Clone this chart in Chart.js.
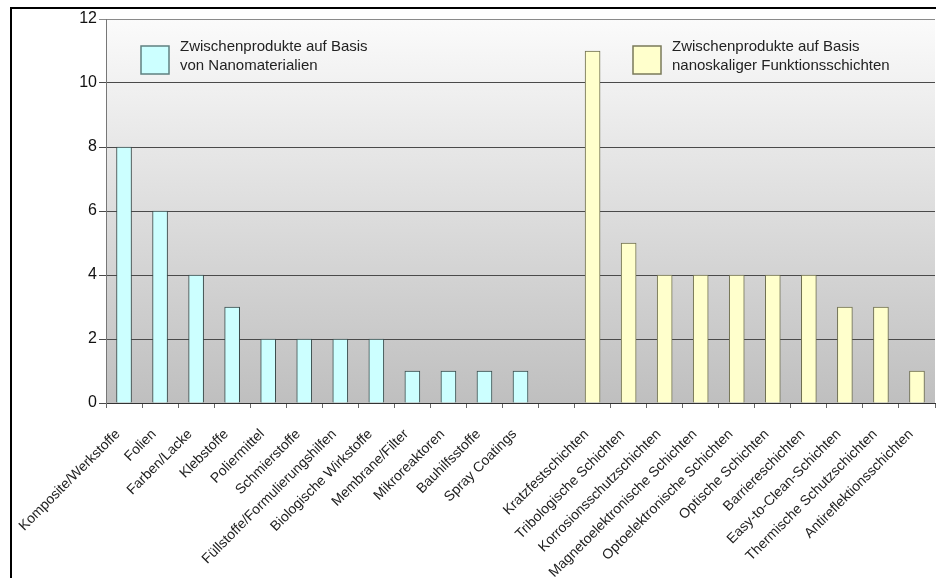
<!DOCTYPE html>
<html>
<head>
<meta charset="utf-8">
<script src="https://cdn.jsdelivr.net/npm/chart.js@4.4.1/dist/chart.umd.min.js"></script>
<style>
  html, body { margin: 0; padding: 0; background: #fff; overflow: hidden; }
  canvas { display: block; }
</style>
</head>
<body>
<canvas id="chart" width="936" height="578"></canvas>
<script>
var categories = [
    "Komposite/Werkstoffe", "Folien", "Farben/Lacke", "Klebstoffe", "Poliermittel",
    "Schmierstoffe", "Füllstoffe/Formulierungshilfen", "Biologische Wirkstoffe",
    "Membrane/Filter", "Mikroreaktoren", "Bauhilfsstoffe", "Spray Coatings", "",
    "Kratzfestschichten", "Tribologische Schichten", "Korrosionsschutzschichten",
    "Magnetoelektronische Schichten", "Optoelektronische Schichten", "Optische Schichten",
    "Barriereschichten", "Easy-to-Clean-Schichten", "Thermische Schutzschichten",
    "Antireflektionsschichten"
];
var nanoValues = [8, 6, 4, 3, 2, 2, 2, 2, 1, 1, 1, 1, null,
    null, null, null, null, null, null, null, null, null, null];
var schichtValues = [null, null, null, null, null, null, null, null, null, null, null, null, null,
    11, 5, 4, 4, 4, 4, 4, 3, 3, 1];
var seriesLabels = [
    ["Zwischenprodukte auf Basis", "von Nanomaterialien"],
    ["Zwischenprodukte auf Basis", "nanoskaliger Funktionsschichten"]
];
var yTicks = [0, 2, 4, 6, 8, 10, 12];

// page frame (left and top edges only) plus gradient plot background
var plotBackground = {
    id: 'plotBackground',
    beforeDraw: function(chart) {
        var a = chart.chartArea, ctx = chart.ctx;
        ctx.save();
        ctx.strokeStyle = '#000';
        ctx.lineWidth = 2;
        ctx.beginPath();
        ctx.moveTo(11, chart.height);
        ctx.lineTo(11, 8);
        ctx.lineTo(chart.width, 8);
        ctx.stroke();
        var g = ctx.createLinearGradient(0, a.top, 0, a.bottom);
        g.addColorStop(0, '#fbfbfb');
        g.addColorStop(1, '#bfbfbf');
        ctx.fillStyle = g;
        ctx.fillRect(a.left, a.top, a.right - a.left, a.bottom - a.top);
        ctx.restore();
    }
};

// legend sits inside the plot, two lines per entry
var innerLegend = {
    id: 'innerLegend',
    afterDraw: function(chart) {
        var a = chart.chartArea, ctx = chart.ctx;
        var spots = [a.left + 35, a.left + 527];
        ctx.save();
        chart.data.datasets.forEach(function(ds, i) {
            var x = spots[i], y = a.top + 27;
            ctx.fillStyle = ds.backgroundColor;
            ctx.fillRect(x, y, 28, 28);
            ctx.strokeStyle = ds.legendBorder;
            ctx.lineWidth = 1.5;
            ctx.strokeRect(x, y, 28, 28);
            ctx.fillStyle = '#222';
            ctx.font = '15px "Liberation Sans", Arial, sans-serif';
            ctx.textBaseline = 'middle';
            ctx.textAlign = 'left';
            ds.label.forEach(function(line, j) {
                ctx.fillText(line, x + 39, y + 1 + j * 18.5);
            });
        });
        ctx.restore();
    }
};

new Chart(document.getElementById('chart'), {
    type: 'bar',
    data: {
        labels: categories,
        datasets: [{
            label: seriesLabels[0],
            data: nanoValues,
            backgroundColor: '#ccffff',
            borderColor: '#3a4a4a',
            legendBorder: '#5f8080',
            borderWidth: 1,
            barThickness: 15,
            grouped: false
        }, {
            label: seriesLabels[1],
            data: schichtValues,
            backgroundColor: '#ffffcc',
            borderColor: '#6e6e50',
            legendBorder: '#7a7a5a',
            borderWidth: 1,
            barThickness: 15,
            grouped: false
        }]
    },
    options: {
        responsive: false,
        animation: false,
        layout: { padding: { left: 0, right: 1, top: 19, bottom: 0 } },
        plugins: { legend: { display: false }, tooltip: { enabled: false } },
        scales: {
            x: {
                offset: true,
                grid: { display: true, drawOnChartArea: false, drawTicks: true, tickLength: 5, color: '#666', offset: true },
                border: { display: true, color: '#333', width: 1 },
                ticks: {
                    autoSkip: false, maxRotation: 45, minRotation: 45, padding: 18, labelOffset: -6,
                    color: '#222', font: { family: '"Liberation Sans", Arial, sans-serif', size: 14 }
                },
                afterFit: function(s) {
                    s.height = 175;
                    s.paddingLeft = 0;
                    s.paddingRight = 0;
                }
            },
            y: {
                min: 0, max: 12,
                afterBuildTicks: function(s) { s.ticks = yTicks.map(function(v) { return { value: v }; }); },
                grid: {
                    color: function(c) { return c.tick && c.tick.value === 12 ? '#8a8a8a' : '#4a4a4a'; },
                    tickLength: 7, lineWidth: 1
                },
                border: { display: true, color: '#777', width: 1 },
                ticks: {
                    padding: 2, color: '#111',
                    font: { family: '"Liberation Sans", Arial, sans-serif', size: 16 }
                },
                afterFit: function(s) { s.width = 106; }
            }
        }
    },
    plugins: [plotBackground, innerLegend]
});
</script>
</body>
</html>
